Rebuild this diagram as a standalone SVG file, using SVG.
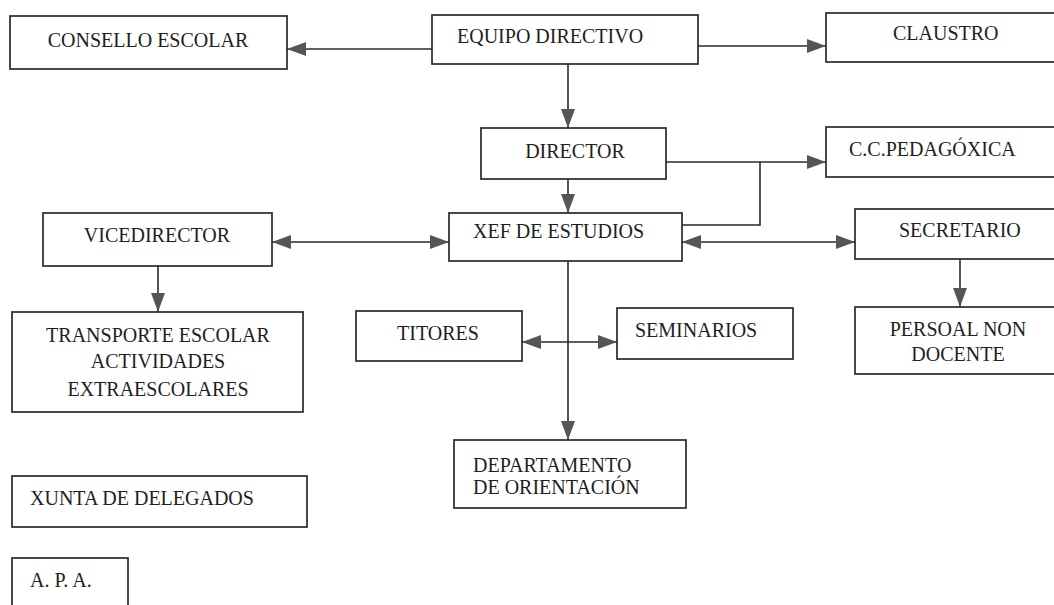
<svg xmlns="http://www.w3.org/2000/svg" width="1054" height="605" viewBox="0 0 1054 605">
<defs>
<style>
.box{fill:#fff;stroke:#2a2a2a;stroke-width:1.7}
.t{font-family:"Liberation Serif","Times New Roman",serif;font-size:20px;fill:#1e1e1e}
.c{text-anchor:middle}
.ln{fill:none;stroke:#2a2a2a;stroke-width:1.6}
</style>
<marker id="ah" viewBox="0 0 19 14" refX="19" refY="7" markerWidth="19" markerHeight="14" markerUnits="userSpaceOnUse" orient="auto-start-reverse">
<path d="M0,0 L19,7 L0,14 z" fill="#555"/>
</marker>
</defs>
<rect width="1054" height="605" fill="#fff"/>
<g id="connectors">
<line class="ln" x1="432" y1="49" x2="287" y2="49" marker-end="url(#ah)"/>
<line class="ln" x1="698" y1="46" x2="826" y2="46" marker-end="url(#ah)"/>
<line class="ln" x1="568" y1="64" x2="568" y2="128" marker-end="url(#ah)"/>
<line class="ln" x1="666" y1="162" x2="826" y2="162" marker-end="url(#ah)"/>
<polyline class="ln" points="760,162 760,225 682,225"/>
<line class="ln" x1="568" y1="179" x2="568" y2="213" marker-end="url(#ah)"/>
<line class="ln" x1="272" y1="242" x2="449" y2="242" marker-start="url(#ah)" marker-end="url(#ah)"/>
<line class="ln" x1="682" y1="242" x2="855" y2="242" marker-start="url(#ah)" marker-end="url(#ah)"/>
<line class="ln" x1="158" y1="266" x2="158" y2="312" marker-end="url(#ah)"/>
<line class="ln" x1="960" y1="259" x2="960" y2="307" marker-end="url(#ah)"/>
<line class="ln" x1="568" y1="261" x2="568" y2="440" marker-end="url(#ah)"/>
<line class="ln" x1="522" y1="342" x2="617" y2="342" marker-start="url(#ah)" marker-end="url(#ah)"/>
</g>
<g id="consello"><rect class="box" x="10" y="16" width="277" height="53"/><text class="t c" x="148" y="47">CONSELLO ESCOLAR</text></g>
<g id="equipo"><rect class="box" x="432" y="15" width="266" height="49"/><text class="t" x="457" y="43">EQUIPO DIRECTIVO</text></g>
<g id="claustro"><rect class="box" x="826" y="13" width="240" height="49"/><text class="t" x="893" y="40">CLAUSTRO</text></g>
<g id="director"><rect class="box" x="481" y="128" width="185" height="51"/><text class="t c" x="575" y="158">DIRECTOR</text></g>
<g id="ccpedagoxica"><rect class="box" x="826" y="127" width="240" height="50"/><text class="t" x="849" y="156">C.C.PEDAGÓXICA</text></g>
<g id="vicedirector"><rect class="box" x="43" y="213" width="229" height="53"/><text class="t c" x="157" y="242">VICEDIRECTOR</text></g>
<g id="xef"><rect class="box" x="449" y="213" width="233" height="48"/><text class="t" x="473" y="238">XEF DE ESTUDIOS</text></g>
<g id="secretario"><rect class="box" x="855" y="209" width="211" height="50"/><text class="t" x="899" y="237">SECRETARIO</text></g>
<g id="transporte"><rect class="box" x="12" y="312" width="291" height="100"/>
<text class="t c" x="158" y="342">TRANSPORTE ESCOLAR</text>
<text class="t c" x="158" y="368">ACTIVIDADES</text>
<text class="t c" x="158" y="396">EXTRAESCOLARES</text></g>
<g id="titores"><rect class="box" x="356" y="311" width="166" height="50"/><text class="t c" x="438" y="340">TITORES</text></g>
<g id="seminarios"><rect class="box" x="617" y="308" width="176" height="51"/><text class="t" x="635" y="337">SEMINARIOS</text></g>
<g id="persoal"><rect class="box" x="855" y="307" width="211" height="67"/>
<text class="t c" x="958" y="336">PERSOAL NON</text>
<text class="t c" x="958" y="361">DOCENTE</text></g>
<g id="departamento"><rect class="box" x="454" y="440" width="232" height="68"/>
<text class="t" x="473" y="472">DEPARTAMENTO</text>
<text class="t" x="473" y="494">DE ORIENTACIÓN</text></g>
<g id="xunta"><rect class="box" x="12" y="476" width="295" height="51"/><text class="t" x="30" y="505">XUNTA DE DELEGADOS</text></g>
<g id="apa"><rect class="box" x="12" y="558" width="116" height="60"/><text class="t" x="30" y="587">A. P. A.</text></g>
</svg>
